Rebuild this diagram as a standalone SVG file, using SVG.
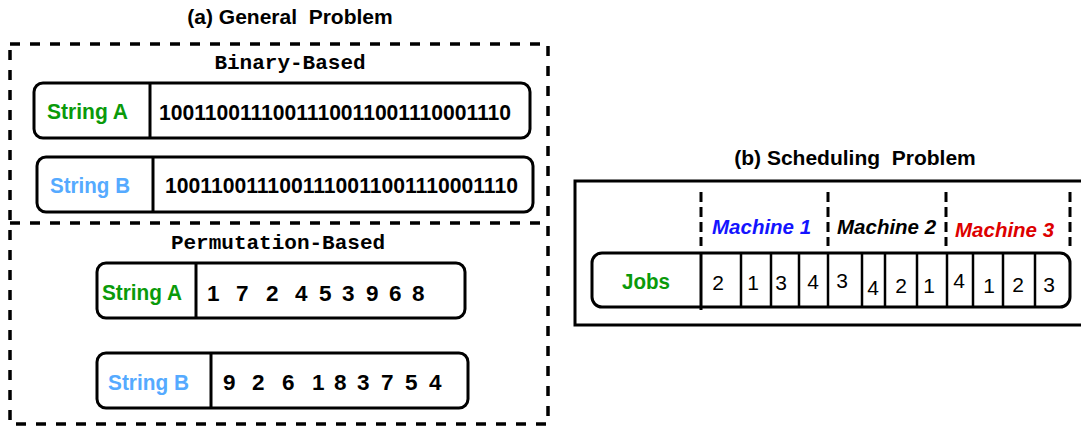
<svg xmlns="http://www.w3.org/2000/svg" width="1081" height="428" viewBox="0 0 1081 428">
<style>
  .title { font-family: "Liberation Sans", Arial, sans-serif; font-weight: bold; font-size: 21px; fill: #000; }
  .mono { font-family: "Liberation Mono", "Courier New", monospace; font-weight: bold; font-size: 21px; fill: #000; }
  .box { fill: #fff; stroke: #000; stroke-width: 3; }
  .div { stroke: #000; stroke-width: 3; fill: none; }
  .cell { stroke: #000; stroke-width: 2.5; fill: none; }
  .dash { stroke: #000; stroke-width: 3.5; fill: none; stroke-dasharray: 10 10; }
  .vdash { stroke: #000; stroke-width: 3; fill: none; stroke-dasharray: 10 5; }
  .lbl { font-family: "Liberation Sans", Arial, sans-serif; font-weight: bold; font-size: 22px; }
  .green { fill: #0a9a0a; }
  .lblue { fill: #55aaff; }
  .bits { font-family: "Liberation Sans", Arial, sans-serif; font-weight: bold; font-size: 22px; fill: #000; }
  .perm { font-family: "Liberation Sans", Arial, sans-serif; font-weight: bold; font-size: 22.5px; fill: #000; }
  .mach { font-family: "Liberation Sans", Arial, sans-serif; font-weight: bold; font-style: italic; font-size: 20.5px; }
  .job { font-family: "Liberation Sans", Arial, sans-serif; font-size: 21px; fill: #000; text-anchor: middle; }
</style>
<rect width="1081" height="428" fill="#fff"/>

<!-- Panel (a) -->
<g id="panel-a">
  <text class="title" x="290" y="24" text-anchor="middle" xml:space="preserve">(a) General  Problem</text>
  <rect class="dash" x="10" y="44" width="538" height="380"/>
  <line class="dash" x1="10" y1="223" x2="548" y2="223"/>
  <text class="mono" x="290" y="69" text-anchor="middle">Binary-Based</text>
  <text class="mono" x="278" y="249" text-anchor="middle">Permutation-Based</text>
</g>

<g id="binary-string-a">
  <rect class="box" x="34" y="83" width="496" height="55" rx="9"/>
  <line class="div" x1="150" y1="83" x2="150" y2="138"/>
  <text class="lbl green" x="47" y="119" textLength="81" lengthAdjust="spacingAndGlyphs">String A</text>
  <text class="bits" x="159" y="120" textLength="352" lengthAdjust="spacingAndGlyphs">1001100111001110011001110001110</text>
</g>

<g id="binary-string-b">
  <rect class="box" x="37" y="157" width="496" height="55" rx="9"/>
  <line class="div" x1="153" y1="157" x2="153" y2="212"/>
  <text class="lbl lblue" x="50" y="193" textLength="80" lengthAdjust="spacingAndGlyphs">String B</text>
  <text class="bits" x="165" y="193" textLength="353" lengthAdjust="spacingAndGlyphs">1001100111001110011001110001110</text>
</g>

<g id="perm-string-a">
  <rect class="box" x="97" y="263" width="368" height="55" rx="9"/>
  <line class="div" x1="196" y1="263" x2="196" y2="318"/>
  <text class="lbl green" x="102" y="300" textLength="80" lengthAdjust="spacingAndGlyphs">String A</text>
  <text class="perm" y="301"><tspan x="207">1</tspan> <tspan x="236">7</tspan> <tspan x="266">2</tspan> <tspan x="295">4</tspan> <tspan x="319">5</tspan> <tspan x="342">3</tspan> <tspan x="366">9</tspan> <tspan x="389">6</tspan> <tspan x="412">8</tspan></text>
</g>

<g id="perm-string-b">
  <rect class="box" x="97" y="353" width="371" height="55" rx="9"/>
  <line class="div" x1="211" y1="353" x2="211" y2="408"/>
  <text class="lbl lblue" x="108" y="390" textLength="81" lengthAdjust="spacingAndGlyphs">String B</text>
  <text class="perm" y="390"><tspan x="223">9</tspan> <tspan x="252">2</tspan> <tspan x="282">6</tspan> <tspan x="312">1</tspan> <tspan x="334">8</tspan> <tspan x="357">3</tspan> <tspan x="381">7</tspan> <tspan x="405">5</tspan> <tspan x="429">4</tspan></text>
</g>

<!-- Panel (b) -->
<g id="panel-b">
  <text class="title" x="855" y="165" text-anchor="middle" xml:space="preserve">(b) Scheduling  Problem</text>
  <rect class="box" x="575" y="181" width="530" height="144"/>
</g>

<g id="machine-separators">
  <line class="vdash" x1="701" y1="192" x2="701" y2="246"/>
  <line class="vdash" x1="828" y1="192" x2="828" y2="246"/>
  <line class="vdash" x1="946" y1="192" x2="946" y2="246"/>
  <line class="vdash" x1="1070" y1="192" x2="1070" y2="246"/>
</g>

<g id="machine-1">
  <text class="mach" x="712" y="234" fill="#1414ff">Machine 1</text>
</g>
<g id="machine-2">
  <text class="mach" x="837" y="234" fill="#000">Machine 2</text>
</g>
<g id="machine-3">
  <text class="mach" x="955" y="237" fill="#dd0000">Machine 3</text>
</g>

<g id="jobs">
  <rect class="box" x="592" y="253" width="478" height="54" rx="10"/>
  <line class="div" x1="701" y1="253" x2="701" y2="310"/>
  <text class="lbl green" x="622" y="289" textLength="48" lengthAdjust="spacingAndGlyphs">Jobs</text>
  <line class="cell" x1="741" y1="253" x2="741" y2="307"/>
  <line class="cell" x1="771" y1="253" x2="771" y2="307"/>
  <line class="cell" x1="799" y1="253" x2="799" y2="307"/>
  <line class="cell" x1="828" y1="253" x2="828" y2="307"/>
  <line class="cell" x1="862" y1="253" x2="862" y2="307"/>
  <line class="cell" x1="885" y1="253" x2="885" y2="307"/>
  <line class="cell" x1="917" y1="253" x2="917" y2="307"/>
  <line class="cell" x1="947" y1="253" x2="947" y2="307"/>
  <line class="cell" x1="973" y1="253" x2="973" y2="307"/>
  <line class="cell" x1="1003" y1="253" x2="1003" y2="307"/>
  <line class="cell" x1="1035" y1="253" x2="1035" y2="307"/>
  <text class="job" x="718" y="290">2</text>
  <text class="job" x="753" y="290">1</text>
  <text class="job" x="781" y="290">3</text>
  <text class="job" x="813" y="289">4</text>
  <text class="job" x="842" y="288">3</text>
  <text class="job" x="873" y="295">4</text>
  <text class="job" x="901" y="293">2</text>
  <text class="job" x="929" y="293">1</text>
  <text class="job" x="959" y="288">4</text>
  <text class="job" x="989" y="293">1</text>
  <text class="job" x="1018" y="292">2</text>
  <text class="job" x="1049" y="292">3</text>
</g>
</svg>
